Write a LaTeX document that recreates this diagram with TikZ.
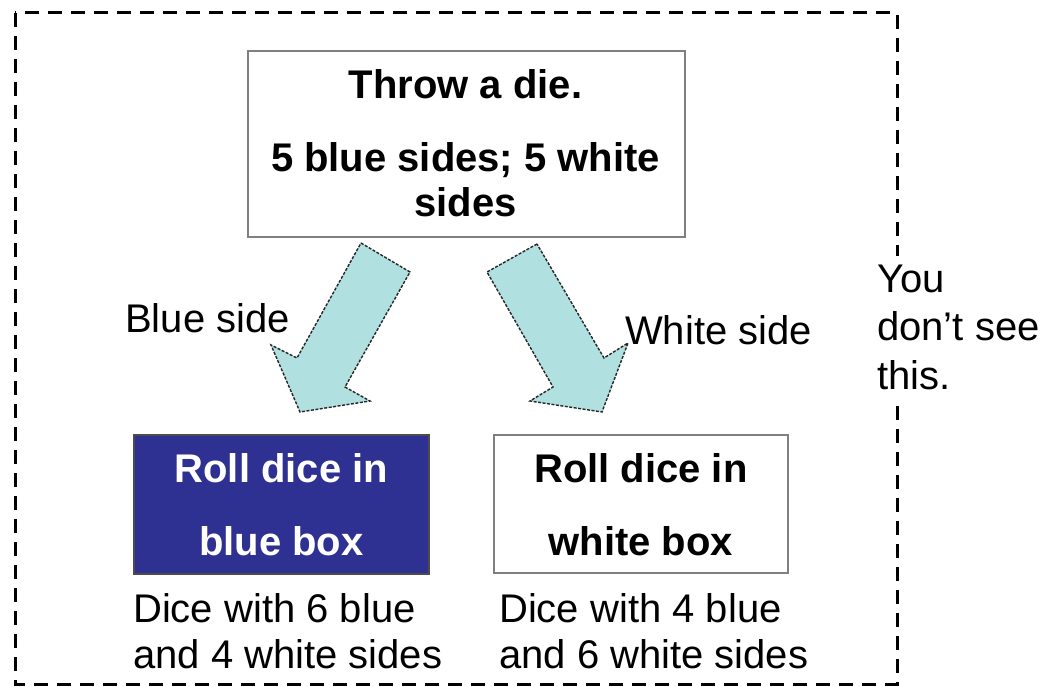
\documentclass[tikz,border=0pt]{standalone}
\usepackage{fontspec}
\setmainfont{Liberation Sans}
\begin{document}
\begin{tikzpicture}[x=1pt,y=-1pt,
  box/.style={draw=black!50, line width=1.6pt, inner sep=0pt, minimum width=#1},
  txt/.style={font=\fontsize{40}{46}\selectfont, inner sep=0pt, anchor=base west},
  btxt/.style={font=\fontsize{40}{46}\selectfont\bfseries, inner sep=0pt, anchor=base},
  blockarrow/.style={fill=arrowfill, draw=black!85, line width=1.4pt, dash pattern=on 3pt off 1.5pt, line join=miter}
]
\definecolor{arrowfill}{HTML}{B0E0E0}
\definecolor{boxblue}{HTML}{2E3192}
\useasboundingbox (0,0) rectangle (1044,687);

% hidden part: dashed frame
\draw[line width=3pt, dash pattern=on 14pt off 9pt] (15,13) rectangle (897,684);

% top box
\node[box=437pt, minimum height=186pt, anchor=north west] (throw) at (247,50) {};
\node[btxt] (t1) at (465.5,99) {Throw a die.};
\node[btxt] (t2) at (465.5,172) {5 blue sides; 5 white};
\node[btxt] (t3) at (465.5,217) {sides};

% bottom boxes
\node[box=295pt, minimum height=139pt, anchor=north west, fill=boxblue, draw=black!70] (bluebox) at (133,434) {};
\node[btxt, text=white] (b1) at (bluebox.center |- 0,482) {Roll dice in};
\node[btxt, text=white] (b2) at (bluebox.center |- 0,555) {blue box};

\node[box=294pt, minimum height=138pt, anchor=north west, fill=white] (whitebox) at (493,434) {};
\node[btxt] (w1) at (whitebox.center |- 0,482) {Roll dice in};
\node[btxt] (w2) at (whitebox.center |- 0,555) {white box};

% captions under the boxes
\node[txt] (bc1) at (133,622) {Dice with 6 blue};
\node[txt] (bc2) at (133,668) {and 4 white sides};
\node[txt] (wc1) at (499,622) {Dice with 4 blue};
\node[txt] (wc2) at (499,668) {and 6 white sides};

% block arrows from the throw to the two boxes
\draw[blockarrow] (361,243) -- (410,272) -- (345,387) -- (370,401) -- (300,412)
  -- (271,345) -- (297,358) -- cycle;
\draw[blockarrow] (537,244) -- (487,272) -- (553,387) -- (530,401) -- (602,412)
  -- (628,343) -- (604,358) -- cycle;

% arrow labels
\node[txt] (lblue) at (125,332) {Blue side};
\node[txt] (lwhite) at (625,344) {White side};

% note outside the frame, on a white ground that hides the frame behind it
\node[fill=white, inner sep=0pt, minimum width=170pt, minimum height=145pt, anchor=north west] (note) at (872,256) {};
\node[txt] (n1) at (877,292) {You};
\node[txt] (n2) at (877,340) {don’t see};
\node[txt] (n3) at (877,389) {this.};
\end{tikzpicture}
\end{document}
